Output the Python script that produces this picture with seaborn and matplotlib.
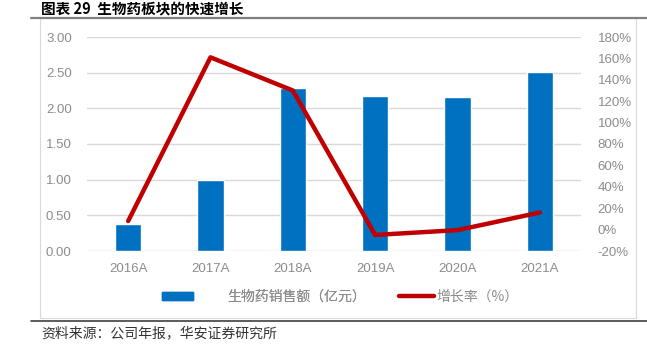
import numpy as np
import pandas as pd
import matplotlib
matplotlib.use("Agg")
import matplotlib.pyplot as plt
from matplotlib.patches import Rectangle, Patch
from matplotlib.lines import Line2D
from matplotlib.ticker import FuncFormatter
import seaborn as sns

# ---- data ----
years = ["2016A", "2017A", "2018A", "2019A", "2020A", "2021A"]
sales = [0.38, 0.99, 2.28, 2.17, 2.16, 2.51]          # 生物药销售额（亿元）
growth = [8, 161, 130, -5, -0.5, 16]                  # 增长率（%）
left_ticks = [0, 0.5, 1.0, 1.5, 2.0, 2.5, 3.0]
right_ticks = [-20, 0, 20, 40, 60, 80, 100, 120, 140, 160, 180]
title = "图表 29  生物药板块的快速增长"
source = "资料来源：公司年报，华安证券研究所"
bar_label = "生物药销售额（亿元）"
line_label = "增长率（%）"

sns.set_theme(style="white")
CJK = ["Noto Sans CJK SC", "DejaVu Sans"]
plt.rcParams["font.family"] = CJK

df = pd.DataFrame({"year": years, "sales": sales, "growth": growth})
df["pos"] = np.arange(len(df))

W, H = 647, 350
fig = plt.figure(figsize=(W / 100, H / 100), dpi=100)
ax = fig.add_axes([87 / W, 1 - 251 / H, (581 - 87) / W, (251 - 37) / H])

BLUE = "#0070C0"
RED = "#C00000"
GRAY = "#8C8C8C"

sns.barplot(data=df, x="year", y="sales", color=BLUE, saturation=1, width=0.32, ax=ax, zorder=2)
ax.set_ylim(0, 3)
ax.set_xlim(-0.5, 5.5)
ax.set_yticks(left_ticks)
ax.yaxis.set_major_formatter(FuncFormatter(lambda v, p: f"{v:.2f}"))
ax.yaxis.grid(True, color="#D9D9D9", lw=1, zorder=0)
ax.set_axisbelow(True)
ax.set_xlabel("")
ax.set_ylabel("")
for s in ax.spines.values():
    s.set_visible(False)
ax.tick_params(axis="both", length=0, colors=GRAY, labelsize=9.5)
ax.tick_params(axis="y", pad=11)
ax.tick_params(axis="x", pad=9)
for lab in ax.get_xticklabels() + ax.get_yticklabels():
    lab.set_family(["Liberation Sans", "DejaVu Sans"])

ax2 = ax.twinx()
sns.lineplot(data=df, x="pos", y="growth", color=RED, lw=3.2, sort=False, ax=ax2, zorder=3)
ax2.set_ylim(-20, 180)
ax2.set_yticks(right_ticks)
ax2.yaxis.set_major_formatter(FuncFormatter(lambda v, p: f"{int(v)}%"))
ax2.set_xlim(-0.5, 5.5)
ax2.set_xlabel("")
ax2.set_ylabel("")
for s in ax2.spines.values():
    s.set_visible(False)
ax2.tick_params(axis="y", length=0, colors=GRAY, labelsize=9.5, pad=12)
for lab in ax2.get_yticklabels():
    lab.set_family(["Liberation Sans", "DejaVu Sans"])

# legends
leg1 = fig.legend(handles=[Patch(facecolor=BLUE, edgecolor=BLUE)], labels=[bar_label],
                  loc="center left", bbox_to_anchor=(162 / W, 1 - 297 / H), frameon=False,
                  handlelength=2.2, handleheight=0.55, handletextpad=2.5,
                  borderpad=0, borderaxespad=0, labelcolor=GRAY, prop={"family": CJK, "size": 10})
leg2 = fig.legend(handles=[Line2D([], [], color=RED, lw=3.2)], labels=[line_label],
                  loc="center left", bbox_to_anchor=(399 / W, 1 - 297 / H), frameon=False,
                  handlelength=2.5, handletextpad=0.2,
                  borderpad=0, borderaxespad=0, labelcolor=GRAY, prop={"family": CJK, "size": 10})
fig.add_artist(leg1)

# frame and rules
fig.add_artist(Rectangle((40 / W, 1 - 318 / H), 596 / W, 300 / H, transform=fig.transFigure,
                         fill=False, edgecolor="#D9D9D9", lw=0.8))
fig.add_artist(Line2D([31 / W, 1], [1 - 18 / H, 1 - 18 / H], transform=fig.transFigure,
                      color="#808080", lw=1.6))
fig.add_artist(Line2D([31 / W, 1], [1 - 320.5 / H, 1 - 320.5 / H], transform=fig.transFigure,
                      color="#404040", lw=1.2))

fig.text(41 / W, 1 - 8 / H, title, fontsize=10.5, fontweight="bold", color="black",
         va="center", ha="left", family=CJK)
fig.text(41 / W, 1 - 333 / H, source, fontsize=10, color="#333333",
         va="center", ha="left", family=CJK)

fig.savefig("out.png", dpi=100)
